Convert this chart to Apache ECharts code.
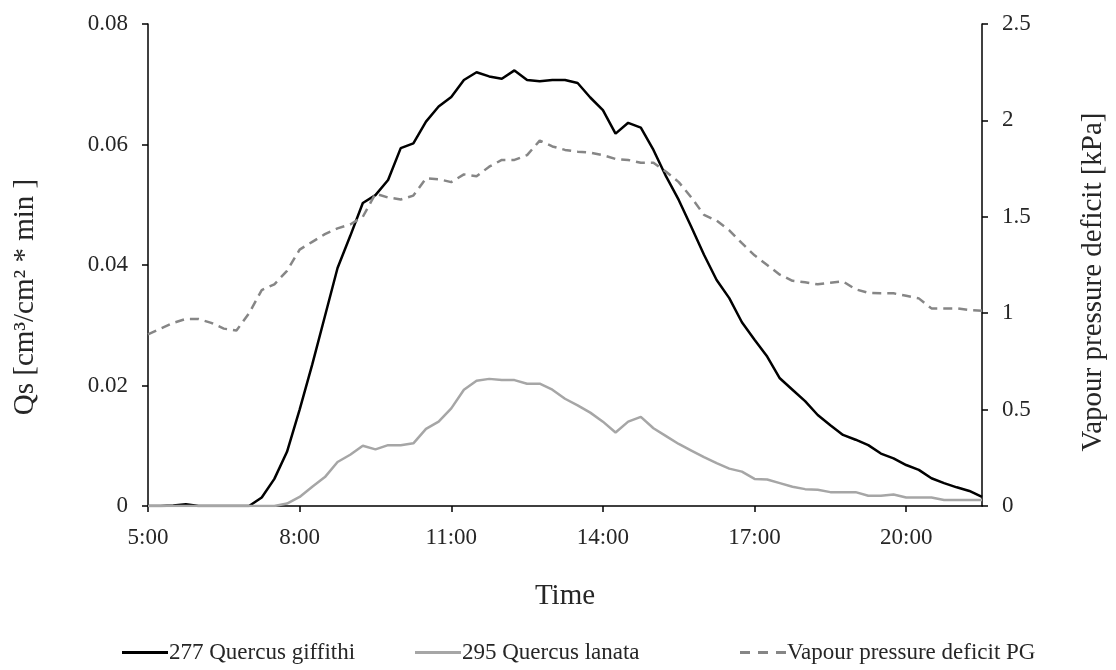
<!DOCTYPE html>
<html>
<head>
<meta charset="utf-8">
<script src="https://cdn.jsdelivr.net/npm/echarts@6/dist/echarts.min.js"></script>
<style>
html,body{margin:0;padding:0;background:#fff;}
#chart{width:1116px;height:670px;}
</style>
</head>
<body>
<div id="chart"></div>
<script>
// Time categories (15-minute steps from 5:00 to 21:30)
const times = [
"5:00","5:15","5:30","5:45","6:00","6:15","6:30","6:45",
"7:00","7:15","7:30","7:45","8:00","8:15","8:30","8:45",
"9:00","9:15","9:30","9:45","10:00","10:15","10:30","10:45",
"11:00","11:15","11:30","11:45","12:00","12:15","12:30","12:45",
"13:00","13:15","13:30","13:45","14:00","14:15","14:30","14:45",
"15:00","15:15","15:30","15:45","16:00","16:15","16:30","16:45",
"17:00","17:15","17:30","17:45","18:00","18:15","18:30","18:45",
"19:00","19:15","19:30","19:45","20:00","20:15","20:30","20:45",
"21:00","21:15","21:30"
];

// 277 Quercus giffithi  (Qs, left axis)
const giffithi = [
0,0,0.0001,0.0003,0,0,0,0,
0,0.0014,0.0045,0.009,0.016,0.0235,0.0315,0.0395,
0.0448,0.0503,0.0516,0.0541,0.0594,0.0602,0.0638,0.0663,
0.0679,0.0707,0.072,0.0713,0.0709,0.0723,0.0707,0.0705,
0.0707,0.0707,0.0702,0.0678,0.0657,0.0618,0.0636,0.0628,
0.0591,0.0547,0.0508,0.0463,0.0417,0.0375,0.0345,0.0305,
0.0276,0.0248,0.0212,0.0193,0.0174,0.0151,0.0134,0.0118,
0.011,0.0101,0.0087,0.0079,0.0068,0.006,0.0046,0.0038,
0.0031,0.0025,0.0015
];

// 295 Quercus lanata  (Qs, left axis)
const lanata = [
0,0,0,0,0,0,0,0,
0,0,0,0.0004,0.0015,0.0032,0.0048,0.0073,
0.0085,0.0100,0.0094,0.0101,0.0101,0.0104,0.0128,0.014,
0.0162,0.0193,0.0208,0.0211,0.0209,0.0209,0.0203,0.0203,
0.0193,0.0178,0.0167,0.0155,0.014,0.0122,0.014,0.0148,
0.0129,0.0116,0.0103,0.0092,0.0081,0.0071,0.0062,0.0057,
0.0045,0.0044,0.0038,0.0032,0.0028,0.0027,0.0023,0.0023,
0.0023,0.0017,0.0017,0.0019,0.0014,0.0014,0.0014,0.001,
0.001,0.001,0.001
];

// Vapour pressure deficit PG  (kPa, right axis)
const vpd = [
0.89,0.92,0.95,0.97,0.97,0.95,0.92,0.91,
1.0,1.12,1.15,1.22,1.33,1.37,1.41,1.44,
1.46,1.50,1.62,1.60,1.59,1.61,1.70,1.695,
1.68,1.72,1.71,1.76,1.795,1.795,1.82,1.895,
1.865,1.847,1.838,1.833,1.82,1.80,1.795,1.78,
1.78,1.734,1.68,1.60,1.51,1.48,1.43,1.363,
1.30,1.25,1.20,1.168,1.16,1.15,1.158,1.165,
1.124,1.106,1.103,1.103,1.09,1.077,1.025,1.025,
1.025,1.017,1.013
];

const seriesNames = ["277 Quercus giffithi","295 Quercus lanata","Vapour pressure deficit PG"];
const leftAxisName = "Qs [cm\u00B3/cm\u00B2 * min ]";
const rightAxisName = "Vapour pressure deficit [kPa]";
const xAxisName = "Time";

const FONT = "'Liberation Serif', 'DejaVu Serif', serif";
const TXT = "#262626";

const chart = echarts.init(document.getElementById('chart'), null, {renderer:'canvas'});

function legendAt(name, left, icon){
  return {
    data:[{name:name, icon:icon}], left:left, top:636, itemWidth:46, itemHeight:3, itemGap:0,
    textStyle:{fontFamily:FONT, fontSize:23, color:TXT, padding:[0,0,0,-4]},
    selectedMode:false
  };
}

const axisCommon = {
  axisLine:{show:true, lineStyle:{color:'#000', width:1.5}},
  axisTick:{show:true, inside:false, length:6, lineStyle:{color:'#000', width:1.5}},
  splitLine:{show:false},
  axisLabel:{fontFamily:FONT, fontSize:23, color:TXT, margin:20}
};

const dashIcon = 'path://M0,0h10v3h-10z M18,0h10v3h-10z M36,0h10v3h-10z';

chart.setOption({
  backgroundColor:'#fff',
  animation:false,
  grid:{left:148, right:129, top:24, bottom:164, containLabel:false},
  legend:[
    legendAt(seriesNames[0], 117, 'rect'),
    legendAt(seriesNames[1], 410, 'rect'),
    legendAt(seriesNames[2], 735, dashIcon)
  ],
  xAxis:{
    type:'category', data:times, boundaryGap:false,
    ...axisCommon,
    axisTick:{show:true, length:6, interval:11, lineStyle:{color:'#000', width:1.5}},
    axisLabel:{fontFamily:FONT, fontSize:23, color:TXT, margin:20, interval:11},
    name:xAxisName, nameLocation:'middle', nameGap:76,
    nameTextStyle:{fontFamily:FONT, fontSize:29, color:TXT}
  },
  yAxis:[
    {
      type:'value', min:0, max:0.08, interval:0.02, position:'left',
      ...axisCommon,
      name:leftAxisName, nameLocation:'middle', nameGap:108, nameRotate:90,
      nameTextStyle:{fontFamily:FONT, fontSize:29, color:TXT, padding:[0,64,0,0]}
    },
    {
      type:'value', min:0, max:2.5, interval:0.5, position:'right',
      ...axisCommon,
      name:rightAxisName, nameLocation:'middle', nameGap:97, nameRotate:90,
      nameTextStyle:{fontFamily:FONT, fontSize:29, color:TXT, padding:[0,34,0,0]}
    }
  ],
  series:[
    {
      name:seriesNames[0], type:'line', data:giffithi, yAxisIndex:0,
      symbol:'none', showSymbol:false, smooth:false,
      lineStyle:{color:'#000000', width:2.5},
      itemStyle:{color:'#000000'}
    },
    {
      name:seriesNames[1], type:'line', data:lanata, yAxisIndex:0,
      symbol:'none', showSymbol:false,
      lineStyle:{color:'#a6a6a6', width:2.5},
      itemStyle:{color:'#a6a6a6'}
    },
    {
      name:seriesNames[2], type:'line', data:vpd, yAxisIndex:1,
      symbol:'none', showSymbol:false,
      lineStyle:{color:'#868686', width:2.5, type:[9,6]},
      itemStyle:{color:'#868686'}
    }
  ]
});
</script>
</body>
</html>
